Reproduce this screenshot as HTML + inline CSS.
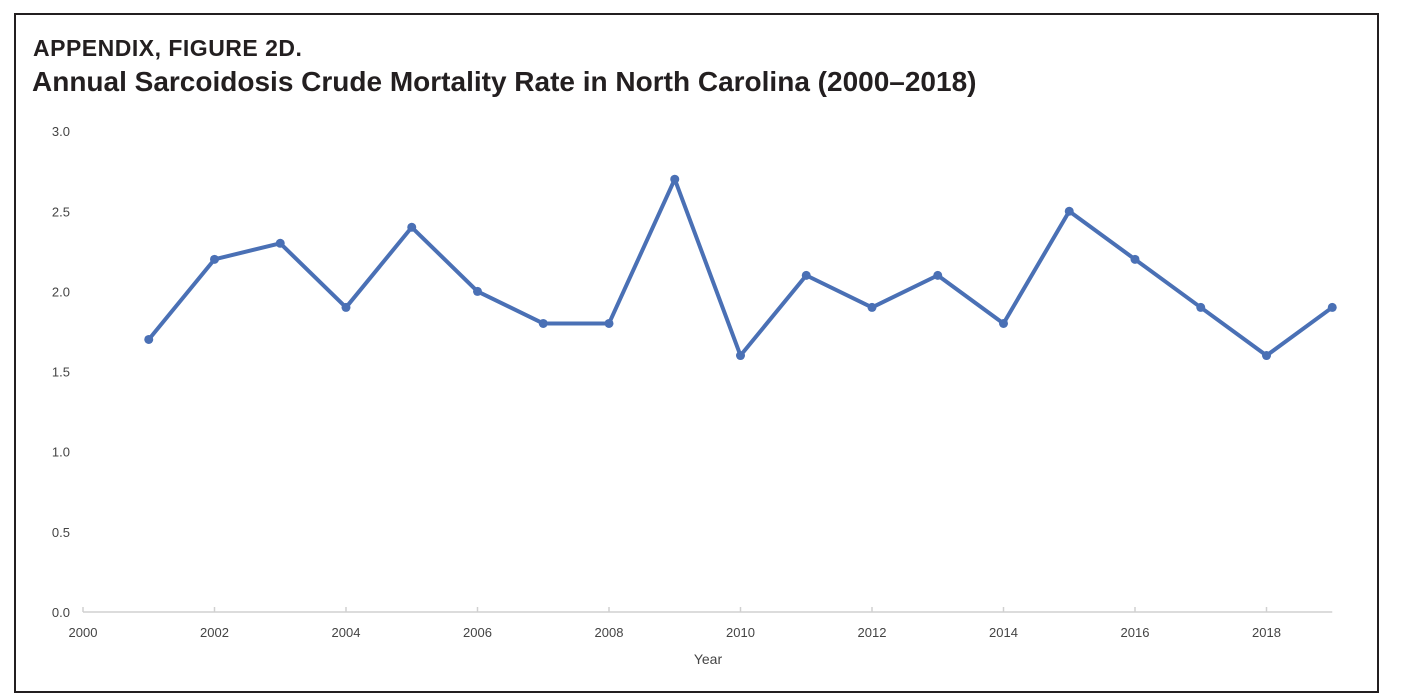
<!DOCTYPE html>
<html><head><meta charset="utf-8"><style>
body{margin:0;background:#fff;width:1402px;height:700px;overflow:hidden;font-family:"Liberation Sans","DejaVu Sans",sans-serif}
#frame{position:absolute;left:14px;top:13px;width:1361px;height:676px;border:2px solid #231f20}
.t1{position:absolute;left:33px;top:35px;font-size:23px;font-weight:bold;color:#231f20;letter-spacing:0.5px}
.t2{position:absolute;left:32px;top:66px;font-size:28px;font-weight:bold;color:#231f20}
</style></head><body>
<div id="frame"></div>
<div class="t1">APPENDIX, FIGURE 2D.</div>
<div class="t2">Annual Sarcoidosis Crude Mortality Rate in North Carolina (2000–2018)</div>
<svg id="chart" width="1402" height="700" style="position:absolute;left:0;top:0"></svg>
<script>
const years=[2001,2002,2003,2004,2005,2006,2007,2008,2009,2010,2011,2012,2013,2014,2015,2016,2017,2018,2019];
const rates=[1.7,2.2,2.3,1.9,2.4,2.0,1.8,1.8,2.7,1.6,2.1,1.9,2.1,1.8,2.5,2.2,1.9,1.6,1.9];
const yTicks=[0,0.5,1,1.5,2,2.5,3];
const xTicks=[2000,2002,2004,2006,2008,2010,2012,2014,2016,2018];
const NS="http://www.w3.org/2000/svg";
const svg=document.getElementById('chart');
const x=v=>83+(v-2000)*65.75;
const y=v=>612-v*160.3;
function mk(t,a){const e=document.createElementNS(NS,t);for(const k in a)e.setAttribute(k,a[k]);svg.appendChild(e);return e;}
const ax=mk('line',{x1:x(2000),x2:x(2019),y1:y(0),y2:y(0),stroke:'#d0d0d0','stroke-width':1.5});


xTicks.forEach(v=>{
 const tk=mk('line',{x1:x(v),x2:x(v),y1:y(0),y2:y(0)-5,stroke:'#d0d0d0','stroke-width':1.5});
 
 
 const t=mk('text',{x:x(v),y:y(0)+25,'text-anchor':'middle','font-size':13,fill:'#444'});t.textContent=v;
 
 
});
yTicks.forEach(v=>{
 const t=mk('text',{x:70,y:y(v)+5,'text-anchor':'end','font-size':13,fill:'#444'});t.textContent=v.toFixed(1);
 
 
});
const xt=mk('text',{x:708,y:664,'text-anchor':'middle','font-size':14,fill:'#444'});xt.textContent='Year';


const pl=mk('polyline',{points:years.map((yr,i)=>x(yr)+','+y(rates[i])).join(' '),fill:'none',stroke:'#4a70b5','stroke-width':4,'stroke-linejoin':'round'});


years.forEach((yr,i)=>{
 const c=mk('circle',{cx:x(yr),cy:y(rates[i]),r:4.5,fill:'#4a70b5'});
 
 
});
</script>
</body></html>
